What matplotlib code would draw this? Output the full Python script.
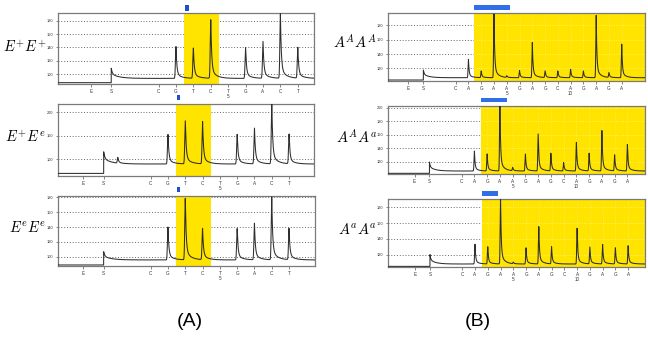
import numpy as np
import matplotlib
matplotlib.use('Agg')
import matplotlib.pyplot as plt
from matplotlib.patches import Rectangle
from matplotlib.transforms import blended_transform_factory

plt.rcParams['mathtext.fontset'] = 'cm'
plt.rcParams['font.family'] = ['Liberation Sans', 'DejaVu Sans']

W, H = 648, 337

# ---------------- data ----------------
# Panel A (E locus): dispensation order and positions
a_disp = ['E', 'S', 'C', 'G', 'T', 'C', 'T', 'G', 'A', 'C', 'T']
a_pos = [-4.9, -3.72, -1, 0, 1, 2, 3, 4, 5, 6, 7]
a_num = {6: '5'}                      # index in a_disp -> number printed below
a_labels = [r'$E^{+}E^{+}$', r'$E^{+}E^{e}$', r'$E^{e}E^{e}$']
# peak tops for C..T (None = no peak)
a1_peaks = [None, 3.06, 2.94, 5.07, None, 2.99, 3.44, 5.53, 2.99]
a2_peaks = [None, 2.06, 2.63, 2.60, None, 2.06, 2.32, 3.45, 2.06]
a3_peaks = [None, 3.00, 4.93, 2.90, None, 2.90, 3.25, 5.04, 2.90]
a_s_peak = [1.43, 1.33, 1.34]
a_base_pre = [0.35, 0.40, 0.44]
a_base_post = [0.67, 0.80, 0.78]
a_ylim = [(0.25, 5.58), (0.29, 3.35), (0.37, 5.10)]
a_grid = [5, 3, 5]
a_xlim = [(-6.78, 7.93), (-6.36, 8.44), (-6.36, 8.50)]
a_region = (0.46, 2.47)
a_ytick_labels = [['100', '120', '140', '160', '180'],
                  ['100', '150', '200'],
                  ['100', '120', '140', '160', '180']]

# Panel B (A locus)
b_disp = ['E', 'S', 'C', 'A', 'G', 'A', 'A', 'G', 'A', 'G', 'C', 'A', 'G', 'A', 'G', 'A']
b_pos = [-3.7, -2.53] + list(range(14))
b_num = {6: '5', 11: '10'}
b_labels = [r'$A^{A}A^{A}$', r'$A^{A}A^{a}$', r'$A^{a}A^{a}$']
b1_peaks = [None, 1.63, 0.81, 4.82, 0.46, 0.84, 2.80, 0.81, 0.81, 0.93, 0.81, 4.70, 0.69, 2.69]
b2_peaks = [None, 1.79, 1.57, 5.30, 0.56, 1.57, 3.05, 1.62, 0.93, 2.43, 1.62, 3.30, 1.50, 2.26]
b3_peaks = [None, 1.66, 1.49, 4.70, 0.50, 1.43, 2.78, 1.49, None, 2.67, 1.47, 1.64, 1.43, 1.56]
b_s_peak = [0.88, 1.00, 1.00]
b_base_pre = [0.18, 0.14, 0.25]
b_base_post = [0.34, 0.31, 0.40]
b_ylim = [(0.11, 4.87), (0.09, 5.12), (0.21, 4.53)]
b_grid = [4, 5, 4]
b_xlim = [(-5.30, 14.82), (-5.78, 14.38), (-5.82, 14.32)]
b_region_start = [1.43, 1.51, 1.52]
b_bar = [(1.43, 4.25), (1.51, 3.55), (1.54, 2.80)]
b_ytick_labels = [['120', '140', '160', '180'],
                  ['120', '140', '160', '180', '200'],
                  ['120', '140', '160', '180']]

# small artefact spike seen in the E+Ee trace
a2_extra = [(-2.9, 1.04)]

# ---------------- layout (pixels) ----------------
a_boxes = [(58, 13, 314, 84), (58, 104, 314, 176), (58, 196, 315, 266)]
b_boxes = [(388, 13, 645, 81), (388, 106, 645, 174), (388, 199, 645, 267)]
a_lab_xy = [(46, 47), (46, 137), (46, 227)]
b_lab_xy = [(377, 42), (377, 137), (377, 230)]
a_mark_y = [(5, 11), (95, 100), (187, 192)]
b_bar_y = [(5, 9.5), (97.5, 102), (191, 196)]

YEL = '#FFE400'
BLUE = '#1F4FD0'
BLUE2 = '#2F6FE8'
TRACE = '#2e2e2e'
FRAME = '#7a7a7a'


def fig_rect(box):
    x0, y0, x1, y1 = box
    return [x0 / W, 1 - y1 / H, (x1 - x0) / W, (y1 - y0) / H]


def trace(x, s_pos, base_pre, base_post, s_top, peak_pos, peak_tops, extra=()):
    y = np.where(x < s_pos, base_pre, base_post).astype(float)
    d = x - s_pos
    amp_s = s_top - base_post
    y += np.where(d >= 0, amp_s * (0.55 * np.exp(-d / 0.06) + 0.45 * np.exp(-d / 0.45)), 0)
    for p, top in list(zip(peak_pos, peak_tops)) + list(extra):
        if top is None:
            continue
        amp = top - base_post
        d = x - p
        shape = np.where(d < 0, np.exp(-0.5 * (d / 0.03) ** 2),
                         0.85 * np.exp(-d / 0.05) + 0.15 * np.exp(-d / 0.3))
        y += amp * shape
    return y


def draw_panel(box, disp, pos, nums, peaks, s_top, bpre, bpost, ylim, ngrid, xlim,
               region, ytl, extra=(), bpanel=False):
    ax = fig.add_axes(fig_rect(box))
    ax.set_xlim(*xlim)
    ax.set_ylim(*ylim)
    for k in range(1, ngrid + 1):
        ax.axhline(k, color='#555555', lw=0.6, ls=(0, (1.2, 2.2)), zorder=1)
    ax.axvspan(region[0], region[1], color=YEL, lw=0, zorder=2)
    if bpanel:
        for k in range(1, ngrid + 1):
            ax.plot([region[0], region[1]], [k, k], color='#fff6b0', lw=0.5,
                    ls=(0, (1.2, 2.2)), zorder=2.5)
        for p in pos[2:]:
            if p > region[0]:
                ax.axvline(p, color='#fff3a0', lw=0.4, ls=(0, (1.2, 2.6)), zorder=2.5)
    x = np.linspace(xlim[0], xlim[1], 6000)
    y = trace(x, pos[1], bpre, bpost, s_top, pos[2:], peaks, extra)
    ax.plot(x, y, color=TRACE, lw=0.75, zorder=3)
    labs = []
    for i, l in enumerate(disp):
        labs.append(l + ('\n' + nums[i] if i in nums else ''))
    ax.set_xticks(pos)
    ax.set_xticklabels(labs, fontsize=3.3, linespacing=1.0, color='#333333')
    ax.set_yticks(range(1, ngrid + 1))
    ax.set_yticklabels(ytl, fontsize=2.8, color='#333333')
    ax.tick_params(axis='both', length=1.8, width=0.5, color='#555555', pad=1.5)
    for sp in ax.spines.values():
        sp.set_color(FRAME)
        sp.set_linewidth(0.9)
    return ax


fig = plt.figure(figsize=(W / 100, H / 100), dpi=100)

a_peak_sets = [a1_peaks, a2_peaks, a3_peaks]
for i in range(3):
    ax = draw_panel(a_boxes[i], a_disp, a_pos, a_num, a_peak_sets[i], a_s_peak[i],
                    a_base_pre[i], a_base_post[i], a_ylim[i], a_grid[i], a_xlim[i],
                    a_region, a_ytick_labels[i], extra=(a2_extra if i == 1 else ()))
    tr = blended_transform_factory(ax.transData, fig.transFigure)
    y0, y1 = a_mark_y[i]
    ax.add_patch(Rectangle((0.50, 1 - y1 / H), 0.22, (y1 - y0) / H, transform=tr,
                           color=BLUE, clip_on=False, lw=0))
    fig.text(a_lab_xy[i][0] / W, 1 - a_lab_xy[i][1] / H, a_labels[i],
             fontsize=10.5, ha='right', va='center')

b_peak_sets = [b1_peaks, b2_peaks, b3_peaks]
for i in range(3):
    ax = draw_panel(b_boxes[i], b_disp, b_pos, b_num, b_peak_sets[i], b_s_peak[i],
                    b_base_pre[i], b_base_post[i], b_ylim[i], b_grid[i], b_xlim[i],
                    (b_region_start[i], b_xlim[i][1]), b_ytick_labels[i], bpanel=True)
    tr = blended_transform_factory(ax.transData, fig.transFigure)
    y0, y1 = b_bar_y[i]
    x0, x1 = b_bar[i]
    ax.add_patch(Rectangle((x0, 1 - y1 / H), x1 - x0, (y1 - y0) / H, transform=tr,
                           color=BLUE2, clip_on=False, lw=0))
    fig.text(b_lab_xy[i][0] / W, 1 - b_lab_xy[i][1] / H, b_labels[i],
             fontsize=10.5, ha='right', va='center')

fig.text(190 / W, 1 - 322 / H, '(A)', fontsize=14, ha='center', va='center')
fig.text(478 / W, 1 - 322 / H, '(B)', fontsize=14, ha='center', va='center')

fig.savefig('out.png', dpi=100)
